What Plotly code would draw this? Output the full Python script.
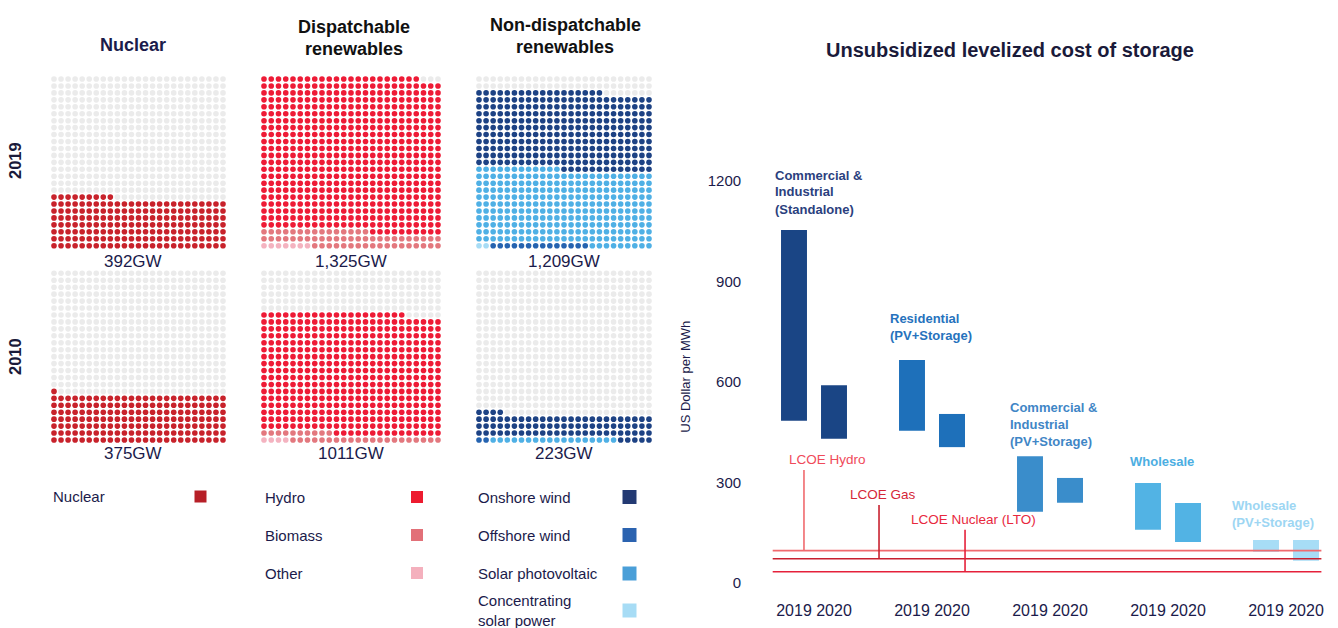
import plotly.graph_objects as go

W, H = 1338, 628

# ---------------- Waffle data (dots; grid 25 x 25, each dot ~2.13 GW) ----------------
grid_rows = 25
grid_cols = 25
nuclear_cats = ["Nuclear"]
nuclear_2019 = [184]
nuclear_2010 = [176]
disp_cats = ["Other", "Biomass", "Hydro"]          # fill order from bottom-left
disp_2019 = [7, 58, 557]
disp_2010 = [4, 31, 435]
nondisp_cats = ["Concentrating solar power", "Offshore wind", "Solar photovoltaic", "Onshore wind"]
nondisp_2019 = [2, 14, 271, 281]
nondisp_2010 = [0, 2, 18, 84]
totals_2019 = ["392GW", "1,325GW", "1,209GW"]
totals_2010 = ["375GW", "1011GW", "223GW"]
column_titles = [["Nuclear"], ["Dispatchable", "renewables"], ["Non-dispatchable", "renewables"]]
row_years = ["2019", "2010"]
legend_nuclear = ["Nuclear"]
legend_disp = ["Hydro", "Biomass", "Other"]
legend_nondisp = ["Onshore wind", "Offshore wind", "Solar photovoltaic", "Concentrating<br>solar power"]

# ---------------- LCOS data (US$/MWh) ----------------
lcos_groups = [["Commercial &", "Industrial", "(Standalone)"], ["Residential", "(PV+Storage)"],
               ["Commercial &", "Industrial", "(PV+Storage)"], ["Wholesale"], ["Wholesale", "(PV+Storage)"]]
lcos_2019_low = [484, 454, 212, 158, 93]
lcos_2019_high = [1053, 665, 378, 298, 128]
lcos_2020_low = [430, 405, 239, 122, 66]
lcos_2020_high = [590, 504, 313, 238, 128]
years = ["2019", "2020"]
lcoe_names = ["LCOE Hydro", "LCOE Gas", "LCOE Nuclear (LTO)"]
lcoe_values = [96, 72, 33]
lcoe_label_values = [337, 232, 158]
y_ticks = [0, 300, 600, 900, 1200]

# ---------------- styles ----------------
FONT = "Liberation Sans, Arial, sans-serif"
NAVY = "#1B1B4B"
EMPTY = "#EBEBEB"
cat_colors = {
    "Nuclear": "#C8222B",
    "Hydro": "#EE1B36",
    "Biomass": "#E3787E",
    "Other": "#F4B3C0",
    "Onshore wind": "#1D4284",
    "Offshore wind": "#2563B0",
    "Solar photovoltaic": "#4FB0E5",
    "Concentrating solar power": "#A7DCF5",
}
legend_sq_colors = {
    "Nuclear": "#B71F27", "Hydro": "#ED1B2F", "Biomass": "#E27078", "Other": "#F4B0BD",
    "Onshore wind": "#233A73", "Offshore wind": "#2B63B0", "Solar photovoltaic": "#4A9FD8",
    "Concentrating<br>solar power": "#A7DCF5",
}
group_bar_colors = ["#1A4585", "#1E70BA", "#3A8DCB", "#52B3E4", "#A7DDF6"]
group_label_colors = ["#2B3F7E", "#2672BD", "#3F86C6", "#4CAEE2", "#9DD6F3"]
lcoe_colors = ["#F06A6E", "#C8202F", "#E5213B"]
lcoe_label_colors = ["#F04A5A", "#D52638", "#E8283E"]


def fx(px):
    return px / W


def fy(py):
    return 1 - py / H


fig = go.Figure()
annotations = []
shapes = []
layout_axes = {}

# ---------------- waffles ----------------
panel_x = [(54, 223), (264, 438), (479, 649)]
panel_y = {"2019": (79, 245.7), "2010": (273.3, 440)}
panels = [
    ("2019", 0, nuclear_cats, nuclear_2019),
    ("2019", 1, disp_cats, disp_2019),
    ("2019", 2, nondisp_cats, nondisp_2019),
    ("2010", 0, nuclear_cats, nuclear_2010),
    ("2010", 1, disp_cats, disp_2010),
    ("2010", 2, nondisp_cats, nondisp_2010),
]
ax_i = 2
for year, col, cats, counts in panels:
    x0, x1 = panel_x[col]
    y0, y1 = panel_y[year]
    sx = (x1 - x0) / (grid_cols - 1)
    sy = (y1 - y0) / (grid_rows - 1)
    xa, ya = f"xaxis{ax_i}", f"yaxis{ax_i}"
    layout_axes[xa] = dict(domain=[fx(x0 - sx / 2), fx(x1 + sx / 2)], range=[-0.5, grid_cols - 0.5],
                           visible=False, anchor=f"y{ax_i}", fixedrange=True)
    layout_axes[ya] = dict(domain=[fy(y1 + sy / 2), fy(y0 - sy / 2)], range=[-0.5, grid_rows - 0.5],
                           visible=False, anchor=f"x{ax_i}", fixedrange=True)
    labels = []
    for c, n in zip(cats, counts):
        labels += [c] * n
    total = grid_rows * grid_cols
    labels += [None] * (total - len(labels))
    groups = {}
    for i, lab in enumerate(labels):
        groups.setdefault(lab, ([], []))
        groups[lab][0].append(i % grid_cols)
        groups[lab][1].append(i // grid_cols)
    for lab, (xs, ys) in groups.items():
        fig.add_trace(go.Scatter(
            x=xs, y=ys, mode="markers", xaxis=f"x{ax_i}", yaxis=f"y{ax_i}",
            marker=dict(size=5.6, color=cat_colors[lab] if lab else EMPTY, line=dict(width=0)),
            showlegend=False, hoverinfo="skip"))
    ax_i += 1

# totals under grids
col_centers = [133, 351, 564]
for i, t in enumerate(totals_2019):
    annotations.append(dict(x=fx(col_centers[i]), y=fy(261), xref="paper", yref="paper", text=t,
                            showarrow=False, xanchor="center", yanchor="middle",
                            font=dict(family=FONT, size=17, color=NAVY)))
for i, t in enumerate(totals_2010):
    annotations.append(dict(x=fx(col_centers[i]), y=fy(453), xref="paper", yref="paper", text=t,
                            showarrow=False, xanchor="center", yanchor="middle",
                            font=dict(family=FONT, size=17, color=NAVY)))

# column titles
title_rows = [[45], [27.5, 49], [25, 47]]
title_cols = ["#1B1B4B", "#111111", "#111111"]
title_cx = [133, 354, 565]
for i, lines in enumerate(column_titles):
    for ln, py in zip(lines, title_rows[i]):
        annotations.append(dict(x=fx(title_cx[i]), y=fy(py), xref="paper", yref="paper",
                                text=f"<b>{ln}</b>", showarrow=False, xanchor="center", yanchor="middle",
                                font=dict(family=FONT, size=18, color=title_cols[i])))

# row year labels
for yr, py in zip(row_years, [161, 357]):
    annotations.append(dict(x=fx(15), y=fy(py), xref="paper", yref="paper", text=f"<b>{yr}</b>",
                            showarrow=False, textangle=-90, xanchor="center", yanchor="middle",
                            font=dict(family=FONT, size=16.5, color="#1a1a3a")))


def legend_block(names, text_x, sq_x, ys, sq_size):
    for nm, py in zip(names, ys):
        annotations.append(dict(x=fx(text_x), y=fy(py), xref="paper", yref="paper", text=nm,
                                showarrow=False, xanchor="left", yanchor="middle", align="left",
                                font=dict(family=FONT, size=15, color=NAVY)))
        shapes.append(dict(type="rect", xref="paper", yref="paper",
                           x0=fx(sq_x - sq_size / 2), x1=fx(sq_x + sq_size / 2),
                           y0=fy(py + sq_size / 2), y1=fy(py - sq_size / 2),
                           fillcolor=legend_sq_colors[nm], line=dict(width=0)))


legend_block(legend_nuclear, 51, 200.5, [496.5], 12)
legend_block(legend_disp, 263, 417, [497, 535, 573], 12)
legend_block(legend_nondisp, 476, 629.5, [497, 535, 573.5, 610.5], 14)

# ---------------- LCOS chart ----------------
g_idx = list(range(len(lcos_groups)))
d = 0.1695
bar_w = 0.22
fig.add_trace(go.Bar(x=[g - d for g in g_idx],
                     y=[h - l for h, l in zip(lcos_2019_high, lcos_2019_low)], base=lcos_2019_low,
                     width=bar_w, marker=dict(color=group_bar_colors, line=dict(width=0)),
                     showlegend=False, hoverinfo="skip", xaxis="x", yaxis="y"))
fig.add_trace(go.Bar(x=[g + d for g in g_idx],
                     y=[h - l for h, l in zip(lcos_2020_high, lcos_2020_low)], base=lcos_2020_low,
                     width=bar_w, marker=dict(color=group_bar_colors, line=dict(width=0)),
                     showlegend=False, hoverinfo="skip", xaxis="x", yaxis="y"))

# LCOE lines
line_x0, line_x1 = -0.35, 4.3
lcoe_vx = [-0.085, 0.551, 1.28]
lcoe_lx = [-0.229, 0.288, 0.805]
for nm, v, top, vx, lx, c, lc in zip(lcoe_names, lcoe_values, lcoe_label_values, lcoe_vx, lcoe_lx,
                                       lcoe_colors, lcoe_label_colors):
    fig.add_trace(go.Scatter(x=[line_x0, line_x1], y=[v, v], mode="lines", line=dict(color=c, width=1.6),
                             showlegend=False, hoverinfo="skip", xaxis="x", yaxis="y"))
    fig.add_trace(go.Scatter(x=[vx, vx], y=[v, top], mode="lines", line=dict(color=c, width=1.6),
                             showlegend=False, hoverinfo="skip", xaxis="x", yaxis="y"))
    annotations.append(dict(x=lx, y=top, xref="x", yref="y", text=nm, showarrow=False,
                            xanchor="left", yanchor="bottom", yshift=1,
                            font=dict(family=FONT, size=13.5, color=lc)))

# group labels
label_xshift = [-41, -44, -42, -40, -56]
label_first_py = [175, 318, 407, 462, 505]
for g, lines in enumerate(lcos_groups):
    for k, ln in enumerate(lines):
        annotations.append(dict(x=g, xref="x", y=fy(label_first_py[g] + 17 * k), yref="paper",
                                xshift=label_xshift[g], text=f"<b>{ln}</b>", showarrow=False,
                                xanchor="left", yanchor="middle",
                                font=dict(family=FONT, size=13, color=group_label_colors[g])))


def vpx(v):
    return 381.8 - 0.335 * (v - 600)


y_lo, y_hi = -30, 1260
x_lo, x_hi = -0.55, 4.35
gpx0, gstep = 814, 118

layout_axes["xaxis"] = dict(domain=[fx(gpx0 + x_lo * gstep), fx(gpx0 + x_hi * gstep)], range=[x_lo, x_hi],
                            tickvals=[g + s for g in g_idx for s in (-d, d)],
                            ticktext=[y for _ in g_idx for y in years],
                            showgrid=False, zeroline=False, showline=False,
                            ticks="outside", ticklen=3, tickcolor="rgba(0,0,0,0)",
                            tickfont=dict(family=FONT, size=16, color=NAVY), anchor="y", fixedrange=True)
layout_axes["yaxis"] = dict(domain=[fy(vpx(y_lo)), fy(vpx(y_hi))], range=[y_lo, y_hi],
                            tickvals=y_ticks, showgrid=False, zeroline=False, showline=False,
                            ticks="outside", ticklen=4, tickcolor="rgba(0,0,0,0)",
                            tickfont=dict(family=FONT, size=15, color=NAVY), anchor="x", fixedrange=True,
                            title=dict(text="US Dollar per MWh", standoff=14,
                                       font=dict(family=FONT, size=13, color=NAVY)))

fig.update_layout(
    width=W, height=H, margin=dict(l=0, r=0, t=0, b=0),
    paper_bgcolor="white", plot_bgcolor="rgba(0,0,0,0)",
    barmode="overlay",
    title=dict(text="<b>Unsubsidized levelized cost of storage</b>", x=fx(1010), y=fy(50),
               xanchor="center", yanchor="middle", font=dict(family=FONT, size=20, color="#1a1a3a")),
    annotations=annotations, shapes=shapes,
    **layout_axes,
)

fig.write_html("out.html", config={"displayModeBar": False},
               post_script="document.body.style.margin='0';")
